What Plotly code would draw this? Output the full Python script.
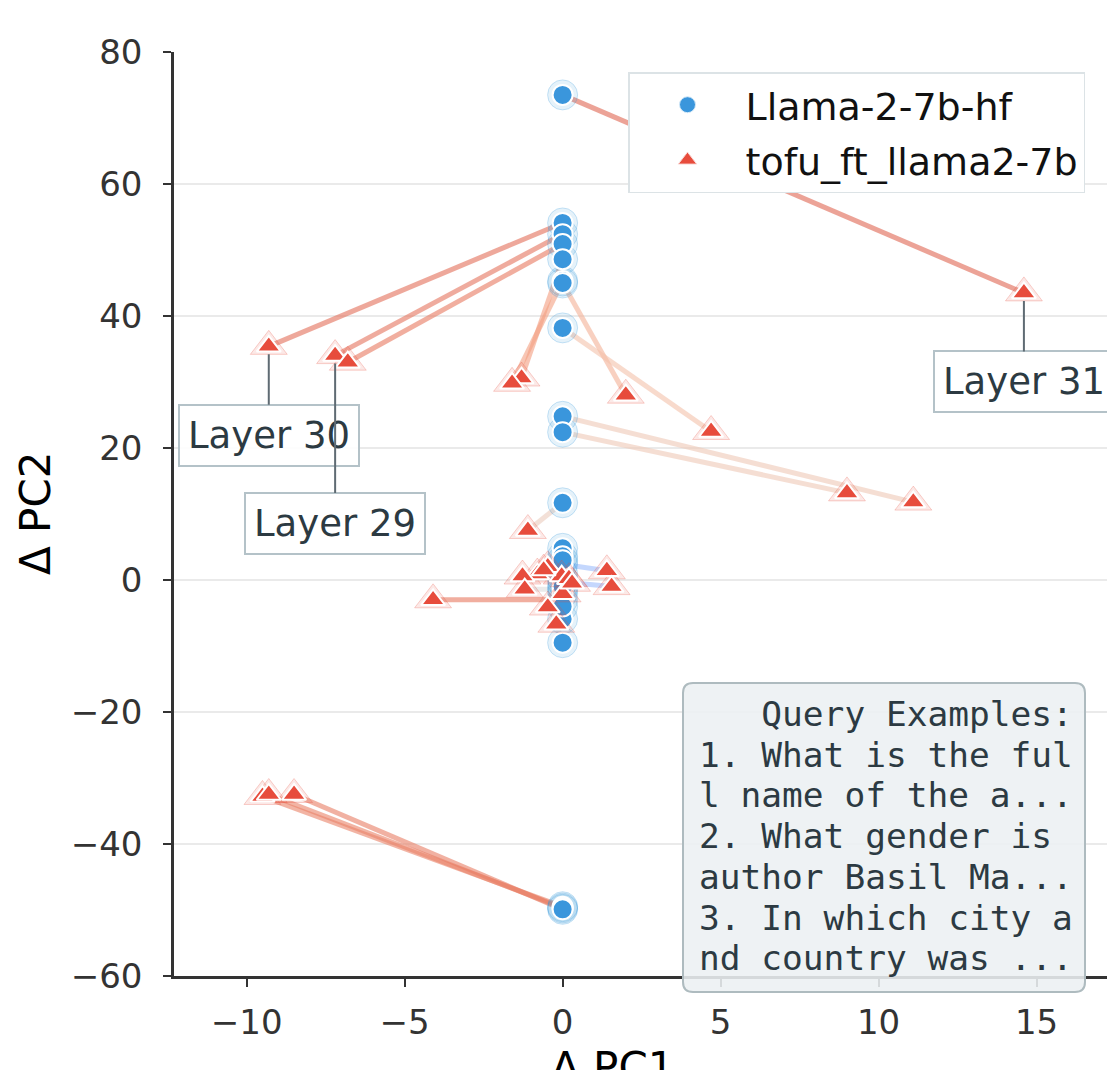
import plotly.graph_objects as go
from plotly.colors import sample_colorscale

# ---------------- data ----------------
base_y = [73.5, 54.1, 52.4, 50.9, 48.6, 45.3, 45.0, 38.2, 24.8, 22.4, 11.7,
          -49.5, -49.7, -49.9, -3.0,
          4.8, 2.4, 3.6, 1.0, 0.2, -0.3, -1.4, -2.0, -5.9, -9.5, -4.0, 3.0, -1.0]
ft_x = [14.6, -9.3, -7.2, -6.8, -1.3, -1.6, 2.0, 4.7, 11.1, 9.0, -1.1,
        -9.5, -9.3, -8.5, -4.1,
        -0.47, 1.4, -0.8, -1.27, -0.03, 1.55, -1.2, 0.0, -0.47, -0.2, 0.2, -0.6, 0.3]
ft_y = [43.5, 35.4, 34.0, 33.0, 30.6, 29.8, 28.0, 22.5, 11.8, 13.2, 7.5,
        -32.8, -32.5, -32.5, -3.0,
        2.0, 1.4, 0.9, 0.6, 0.6, -1.0, -1.4, -2.1, -4.1, -6.7, 0.2, 1.5, -0.5]
line_c = [0.86, 0.84, 0.83, 0.82, 0.74, 0.73, 0.68, 0.63, 0.60, 0.60, 0.58,
          0.80, 0.80, 0.81, 0.82,
          0.55, 0.30, 0.50, 0.50, 0.50, 0.30, 0.50, 0.50, 0.50, 0.50, 0.50, 0.50, 0.50]
base_x = [0.0] * len(base_y)

x_ticks = [-10, -5, 0, 5, 10, 15]
y_ticks = [80, 60, 40, 20, 0, -20, -40, -60]
grid_y = [60, 40, 20, 0, -20, -40]

series_names = ["Llama-2-7b-hf", "tofu_ft_llama2-7b"]
layer_labels = [("Layer 30", -9.3, 35.4, 89), ("Layer 29", -7.2, 34.0, 168), ("Layer 31", 14.6, 43.5, 89)]
query_lines = ["Query Examples:", "1. What is the ful", "l name of the a...",
               "2. What gender is ", "author Basil Ma...",
               "3. In which city a", "nd country was ..."]

coolwarm = [[0.0, "rgb(59,76,192)"], [0.125, "rgb(98,130,234)"], [0.25, "rgb(141,176,254)"],
            [0.375, "rgb(184,208,249)"], [0.5, "rgb(221,221,221)"], [0.625, "rgb(245,196,173)"],
            [0.75, "rgb(244,154,123)"], [0.875, "rgb(222,96,77)"], [1.0, "rgb(180,4,38)"]]

BLUE = "#3a96dc"
RED = "#e74c3c"
FONT = "DejaVu Sans"

# plot-area geometry (pixels) used for paper-coordinate conversions
PL, PR, PT, PB = 174, 1107, 52, 976
def px_x(p):
    return (p - PL) / (PR - PL)
def px_y(p):
    return (PB - p) / (PB - PT)

fig = go.Figure()

# connecting lines
colors = sample_colorscale(coolwarm, line_c)
for bx, by, fx, fy, col in zip(base_x, base_y, ft_x, ft_y, colors):
    fig.add_trace(go.Scatter(x=[bx, fx], y=[by, fy], mode="lines",
                             line=dict(color=col, width=5), opacity=0.6,
                             showlegend=False, hoverinfo="skip"))

# base model circles (halo + main)
fig.add_trace(go.Scatter(x=base_x, y=base_y, mode="markers", showlegend=False, hoverinfo="skip",
                         marker=dict(symbol="circle", size=30, color="rgba(52,152,219,0.13)",
                                     line=dict(color="rgba(52,152,219,0.25)", width=1))))
fig.add_trace(go.Scatter(x=base_x, y=base_y, mode="markers", name=series_names[0],
                         showlegend=False,
                         marker=dict(symbol="circle", size=20, color=BLUE,
                                     line=dict(color="white", width=2))))

# fine-tuned triangles (halo + main)
fig.add_trace(go.Scatter(x=ft_x, y=ft_y, mode="markers", showlegend=False, hoverinfo="skip",
                         marker=dict(symbol="triangle-up", size=32, color="rgba(231,76,60,0.12)",
                                     line=dict(color="rgba(231,76,60,0.25)", width=1))))
fig.add_trace(go.Scatter(x=ft_x, y=ft_y, mode="markers", name=series_names[1],
                         showlegend=False,
                         marker=dict(symbol="triangle-up", size=21, color=RED,
                                     line=dict(color="white", width=2))))

# legend-only entries (larger, solid symbols)
fig.add_trace(go.Scatter(x=[None], y=[None], mode="markers", name=series_names[0], legendgroup="a",
                         marker=dict(symbol="circle", size=16, color=BLUE,
                                     line=dict(color="rgba(214,234,248,1)", width=1))))
fig.add_trace(go.Scatter(x=[None], y=[None], mode="markers", name=series_names[1], legendgroup="b",
                         marker=dict(symbol="triangle-up", size=16, color=RED,
                                     line=dict(color="rgba(250,219,216,1)", width=1))))

# grid lines
for gy in grid_y:
    fig.add_shape(type="line", xref="paper", x0=0, x1=1, yref="y", y0=gy, y1=gy,
                  line=dict(color="#e3e3e3", width=1.5), layer="below")

# rounded query box
bx0, bx1, by0, by1 = px_x(683), px_x(1085), px_y(992), px_y(683)
rx, ry = 10 / (PR - PL), 10 / (PB - PT)
path = (f"M {bx0+rx},{by0} L {bx1-rx},{by0} Q {bx1},{by0} {bx1},{by0+ry} "
        f"L {bx1},{by1-ry} Q {bx1},{by1} {bx1-rx},{by1} L {bx0+rx},{by1} "
        f"Q {bx0},{by1} {bx0},{by1-ry} L {bx0},{by0+ry} Q {bx0},{by0} {bx0+rx},{by0} Z")
fig.add_shape(type="path", xref="paper", yref="paper", path=path,
              fillcolor="rgba(236,240,242,0.88)", line=dict(color="#aebbbf", width=2), layer="above")

annotations = []
for txt, tx, ty, off in layer_labels:
    annotations.append(dict(x=tx, y=ty, xref="x", yref="y", text=txt, showarrow=True,
                            ax=0, ay=off, arrowhead=0, arrowwidth=2, arrowcolor="#5f6b73",
                            standoff=8, bgcolor="rgba(255,255,255,0.9)", bordercolor="#b4c2c8",
                            borderwidth=2, borderpad=8,
                            font=dict(family=FONT, size=37, color="#2c3a42")))

width = max(len(s) for s in query_lines)
for i, line in enumerate(query_lines):
    padded = line.rjust(width).replace(" ", "\u00a0")
    annotations.append(dict(x=px_x(697), y=px_y(714 + i * 40.7), xref="paper", yref="paper",
                            xanchor="left", yanchor="middle", showarrow=False, text=padded,
                            font=dict(family="DejaVu Sans Mono", size=34.5, color="#2c3a42")))

annotations.append(dict(x=px_x(35), y=0.5, xref="paper", yref="paper", text="Δ PC2",
                        textangle=-90, showarrow=False, xanchor="center", yanchor="middle",
                        font=dict(family=FONT, size=42, color="black")))
annotations.append(dict(x=px_x(612), y=px_y(1041), xref="paper", yref="paper", text="Δ PC1",
                        showarrow=False, xanchor="center", yanchor="top",
                        font=dict(family=FONT, size=42, color="black")))

fig.update_layout(
    width=1107, height=1070,
    margin=dict(l=PL, r=1107 - PR, t=PT, b=1070 - PB),
    paper_bgcolor="white", plot_bgcolor="white",
    font=dict(family=FONT, color="#333333"),
    annotations=annotations,
    legend=dict(x=px_x(628), y=px_y(72), xanchor="left", yanchor="top",
                bgcolor="white", bordercolor="#dce3e6", borderwidth=1.5,
                font=dict(family=FONT, size=38, color="#111111"),
                traceorder="grouped", tracegroupgap=3, itemwidth=106),
    showlegend=True,
)
fig.update_xaxes(range=[-12.3, 17.23], tickvals=x_ticks, showgrid=False, zeroline=False,
                 showline=True, linecolor="#333333", linewidth=2.5,
                 ticks="outside", ticklen=8, tickwidth=2, tickcolor="#333333",
                 tickfont=dict(family=FONT, size=34, color="#333333"), ticklabelstandoff=6)
fig.update_yaxes(range=[-60, 80], tickvals=y_ticks, showgrid=False, zeroline=False,
                 showline=True, linecolor="#333333", linewidth=2.5,
                 ticks="outside", ticklen=8, tickwidth=2, tickcolor="#333333",
                 tickfont=dict(family=FONT, size=34, color="#333333"), ticklabelstandoff=14)

fig.write_html("out.html")
